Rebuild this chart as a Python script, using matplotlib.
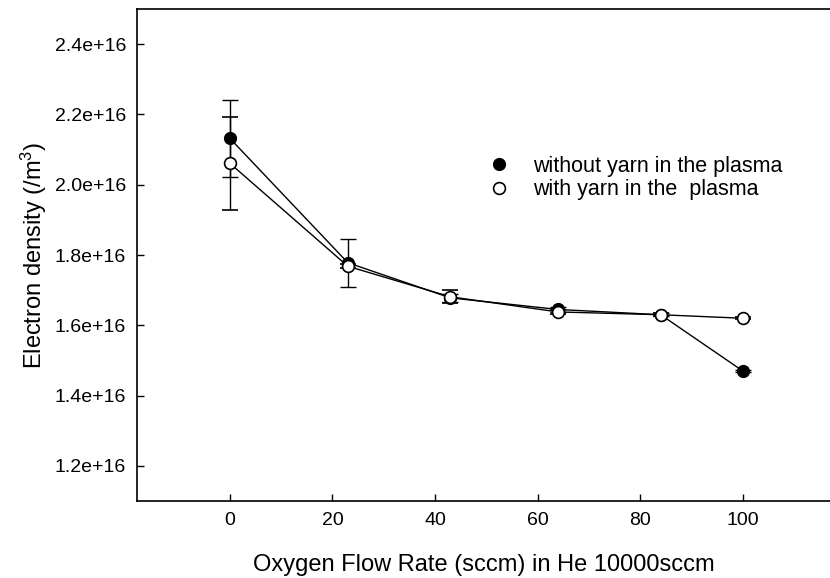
import matplotlib
matplotlib.use("Agg")
import matplotlib.pyplot as plt
from matplotlib.lines import Line2D

plt.rcParams['font.family'] = ['Liberation Sans', 'DejaVu Sans']
plt.rcParams['mathtext.fontset'] = 'custom'
plt.rcParams['mathtext.rm'] = 'Liberation Sans'
plt.rcParams['mathtext.it'] = 'Liberation Sans'

# Data
flow = [0, 23, 43, 64, 84, 100]
without_yarn = [2.132e16, 1.778e16, 1.678e16, 1.645e16, 1.630e16, 1.470e16]
without_err = [0.11e16, 0.068e16, 0.012e16, 0.008e16, 0.004e16, 0.003e16]
with_yarn = [2.061e16, 1.768e16, 1.681e16, 1.638e16, 1.630e16, 1.620e16]
with_err = [0.133e16, 0.005e16, 0.019e16, 0.006e16, 0.004e16, 0.003e16]

xticks = [0, 20, 40, 60, 80, 100]
yticks = [1.2e16, 1.4e16, 1.6e16, 1.8e16, 2.0e16, 2.2e16, 2.4e16]
ytick_labels = ['1.2e+16', '1.4e+16', '1.6e+16', '1.8e+16', '2.0e+16', '2.2e+16', '2.4e+16']
labels = ['without yarn in the plasma', 'with yarn in the  plasma']

fig = plt.figure(figsize=(8.3, 5.78), dpi=100)
ax = fig.add_axes([137/830, 77/578, 693/830, 492/578])

ax.errorbar(flow, without_yarn, yerr=without_err, color='black', marker='o',
            markersize=8.5, markerfacecolor='black', markeredgecolor='black',
            linewidth=1.0, elinewidth=1.0, capsize=5.5, capthick=1.0, zorder=3)
ax.errorbar(flow, with_yarn, yerr=with_err, color='black', marker='o',
            markersize=8.5, markerfacecolor='white', markeredgecolor='black',
            markeredgewidth=1.2, linewidth=1.0, elinewidth=1.0, capsize=5.5,
            capthick=1.0, zorder=4)

ax.set_xlim(-18.1, 117)
ax.set_ylim(1.1e16, 2.5e16)
ax.set_xticks(xticks)
ax.set_xticklabels([str(t) for t in xticks])
ax.set_yticks(yticks)
ax.set_yticklabels(ytick_labels)
ax.tick_params(direction='in', length=5, width=1, labelsize=14, pad=8)
ax.spines['right'].set_visible(False)
for s in ['left', 'bottom', 'top']:
    ax.spines[s].set_linewidth(1.2)

ax.set_xlabel('Oxygen Flow Rate (sccm) in He 10000sccm', fontsize=17, labelpad=18)
ax.set_ylabel('Electron density (/m$^3$)', fontsize=17, labelpad=4)

handles = [
    Line2D([], [], linestyle='none', marker='o', markersize=8.5,
           markerfacecolor='black', markeredgecolor='black'),
    Line2D([], [], linestyle='none', marker='o', markersize=8.5,
           markerfacecolor='white', markeredgecolor='black', markeredgewidth=1.2),
]
leg = ax.legend(handles, labels, loc='upper left', bbox_to_anchor=(0.51, 0.702),
                frameon=False, fontsize=15.5, handlelength=0.8, handletextpad=1.2,
                labelspacing=0.12, borderaxespad=0, borderpad=0)

fig.savefig('out.png', dpi=100)
